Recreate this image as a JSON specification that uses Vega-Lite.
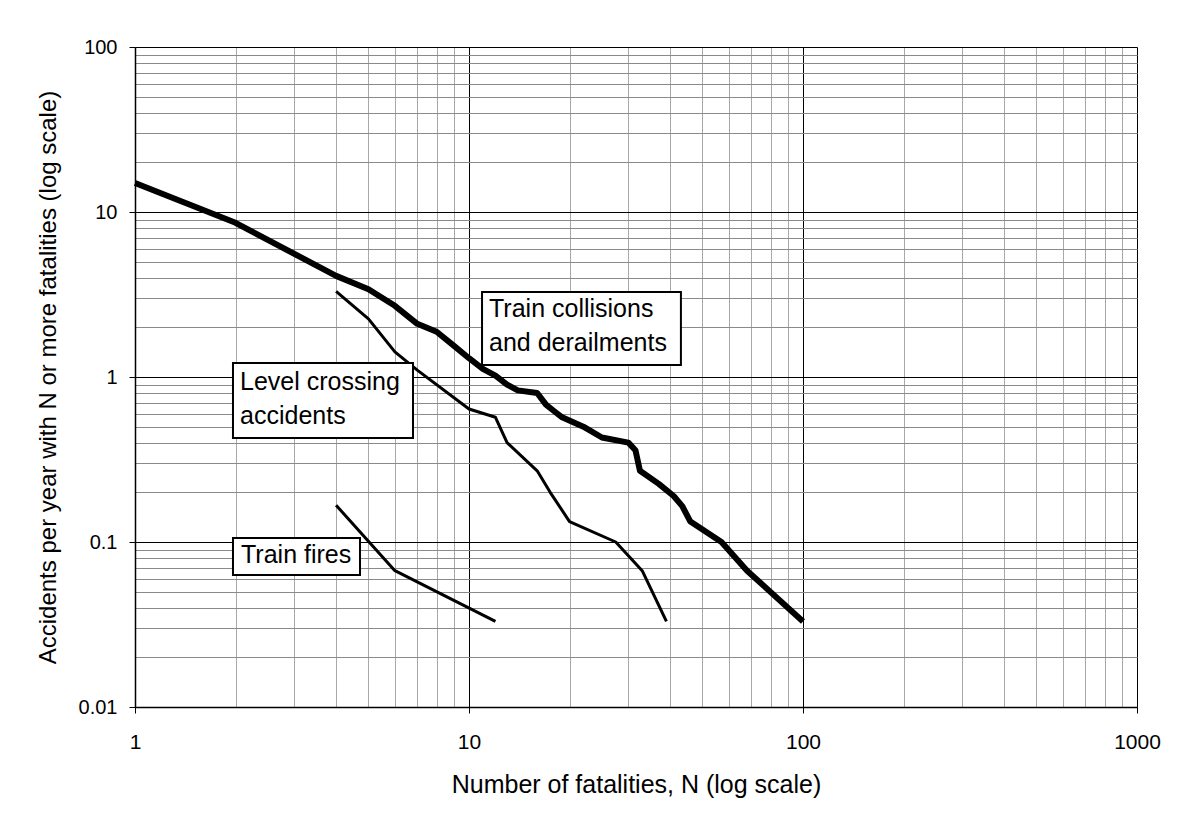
{
  "$schema": "https://vega.github.io/schema/vega-lite/v6.json",
  "width": 1002,
  "height": 660,
  "autosize": {"type": "none"},
  "padding": {"left": 135, "top": 47, "right": 47, "bottom": 115},
  "background": "white",
  "config": {
    "view": {"stroke": null},
    "font": "Liberation Sans"
  },
  "datasets": {
    "curves": [
      {"series": "collisions", "N": 1, "value": 15},
      {"series": "collisions", "N": 2, "value": 8.6},
      {"series": "collisions", "N": 4, "value": 4.1},
      {"series": "collisions", "N": 5, "value": 3.4},
      {"series": "collisions", "N": 6, "value": 2.7},
      {"series": "collisions", "N": 7, "value": 2.1},
      {"series": "collisions", "N": 8, "value": 1.88},
      {"series": "collisions", "N": 9, "value": 1.55},
      {"series": "collisions", "N": 10, "value": 1.3},
      {"series": "collisions", "N": 11, "value": 1.12},
      {"series": "collisions", "N": 12, "value": 1.02},
      {"series": "collisions", "N": 13, "value": 0.9},
      {"series": "collisions", "N": 14, "value": 0.83},
      {"series": "collisions", "N": 16, "value": 0.8},
      {"series": "collisions", "N": 17, "value": 0.68},
      {"series": "collisions", "N": 18, "value": 0.62},
      {"series": "collisions", "N": 19, "value": 0.57},
      {"series": "collisions", "N": 22, "value": 0.5},
      {"series": "collisions", "N": 25, "value": 0.43},
      {"series": "collisions", "N": 30, "value": 0.4},
      {"series": "collisions", "N": 31.5, "value": 0.36},
      {"series": "collisions", "N": 32.5, "value": 0.27},
      {"series": "collisions", "N": 37, "value": 0.225},
      {"series": "collisions", "N": 41, "value": 0.19},
      {"series": "collisions", "N": 43.5, "value": 0.165},
      {"series": "collisions", "N": 46, "value": 0.133},
      {"series": "collisions", "N": 57, "value": 0.1},
      {"series": "collisions", "N": 68, "value": 0.067},
      {"series": "collisions", "N": 100, "value": 0.033},
      {"series": "level", "N": 4, "value": 3.3},
      {"series": "level", "N": 5, "value": 2.25},
      {"series": "level", "N": 6, "value": 1.42},
      {"series": "level", "N": 7, "value": 1.1},
      {"series": "level", "N": 10, "value": 0.64},
      {"series": "level", "N": 12, "value": 0.57},
      {"series": "level", "N": 13, "value": 0.4},
      {"series": "level", "N": 16, "value": 0.27},
      {"series": "level", "N": 17.5, "value": 0.2},
      {"series": "level", "N": 20, "value": 0.133},
      {"series": "level", "N": 27.5, "value": 0.1},
      {"series": "level", "N": 33, "value": 0.067},
      {"series": "level", "N": 39, "value": 0.033},
      {"series": "fires", "N": 4, "value": 0.167},
      {"series": "fires", "N": 6, "value": 0.067},
      {"series": "fires", "N": 12, "value": 0.033}
    ],
    "boxes": [
      {"N": 10.94, "N2": 43.1, "value": 3.275, "value2": 1.182},
      {"N": 1.965, "N2": 6.797, "value": 1.216, "value2": 0.427},
      {"N": 1.965, "N2": 4.717, "value": 0.1057, "value2": 0.0631}
    ],
    "texts": [
      {"N": 11.48, "value": 2.31, "text": "Train collisions\nand derailments"},
      {"N": 2.063, "value": 0.834, "text": "Level crossing\naccidents"},
      {"N": 2.077, "value": 0.0746, "text": "Train fires"}
    ]
  },
  "encoding": {
    "x": {
      "field": "N",
      "type": "quantitative",
      "scale": {"type": "log", "domain": [1, 1000], "nice": false},
      "axis": {
        "title": "Number of fatalities, N (log scale)",
        "titleFontSize": 25,
        "titleFontWeight": "normal",
        "titleColor": "black",
        "titlePadding": 20,
        "values": [1,2,3,4,5,6,7,8,9,10,20,30,40,50,60,70,80,90,100,200,300,400,500,600,700,800,900,1000],
        "format": "~g",
        "labelExpr": "abs(log(datum.value)/LN10 - round(log(datum.value)/LN10)) < 0.001 ? datum.label : ''",
        "labelFontSize": 21,
        "labelColor": "black",
        "labelPadding": 18,
        "labelFlush": false,
        "labelOverlap": false,
        "domainColor": "black",
        "domainWidth": 1.5,
        "tickColor": "black",
        "tickSize": 6,
        "tickOpacity": {"condition": {"test": "abs(log(datum.value)/LN10 - round(log(datum.value)/LN10)) < 0.001", "value": 1}, "value": 0},
        "grid": true,
        "gridColor": {"condition": {"test": "abs(log(datum.value)/LN10 - round(log(datum.value)/LN10)) < 0.001", "value": "#000000"}, "value": "#a8a8a8"},
        "gridWidth": 1,
        "gridOpacity": 1
      }
    },
    "y": {
      "field": "value",
      "type": "quantitative",
      "scale": {"type": "log", "domain": [0.01, 100], "nice": false},
      "axis": {
        "title": "Accidents per year with N or more fatalities (log scale)",
        "titleFontSize": 24,
        "titleFontWeight": "normal",
        "titleColor": "black",
        "titlePadding": 18,
        "values": [0.01,0.02,0.03,0.04,0.05,0.06,0.07,0.08,0.09,0.1,0.2,0.3,0.4,0.5,0.6,0.7,0.8,0.9,1,2,3,4,5,6,7,8,9,10,20,30,40,50,60,70,80,90,100],
        "format": "~g",
        "labelExpr": "abs(log(datum.value)/LN10 - round(log(datum.value)/LN10)) < 0.001 ? datum.label : ''",
        "labelFontSize": 20,
        "labelColor": "black",
        "labelPadding": 12,
        "labelFlush": false,
        "labelOverlap": false,
        "domainColor": "black",
        "domainWidth": 1.5,
        "tickColor": "black",
        "tickSize": 6,
        "tickOpacity": {"condition": {"test": "abs(log(datum.value)/LN10 - round(log(datum.value)/LN10)) < 0.001", "value": 1}, "value": 0},
        "grid": true,
        "gridColor": {"condition": {"test": "abs(log(datum.value)/LN10 - round(log(datum.value)/LN10)) < 0.001", "value": "#000000"}, "value": "#8a8a8a"},
        "gridWidth": 1,
        "gridOpacity": 1
      }
    }
  },
  "layer": [
    {
      "data": {"name": "curves"},
      "transform": [{"filter": "datum.series === 'collisions'"}],
      "mark": {"type": "line", "color": "black", "strokeWidth": 6, "strokeJoin": "round", "strokeCap": "butt"},
      "encoding": {"order": {"field": "N", "type": "quantitative"}}
    },
    {
      "data": {"name": "curves"},
      "transform": [{"filter": "datum.series !== 'collisions'"}],
      "mark": {"type": "line", "color": "black", "strokeWidth": 3, "strokeJoin": "round", "strokeCap": "butt"},
      "encoding": {
        "detail": {"field": "series", "type": "nominal"},
        "order": {"field": "N", "type": "quantitative"}
      }
    },
    {
      "data": {"name": "boxes"},
      "mark": {"type": "rect", "fill": "white", "stroke": "black", "strokeWidth": 2},
      "encoding": {
        "x2": {"field": "N2"},
        "y2": {"field": "value2"}
      }
    },
    {
      "data": {"name": "texts"},
      "mark": {"type": "text", "align": "left", "baseline": "alphabetic", "fontSize": 25, "lineHeight": 34, "lineBreak": "\n", "color": "black", "font": "Liberation Sans"},
      "encoding": {
        "text": {"field": "text", "type": "nominal"}
      }
    }
  ]
}
